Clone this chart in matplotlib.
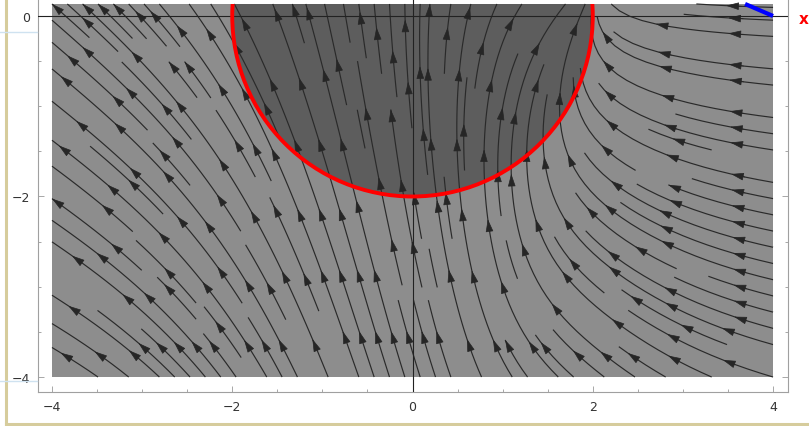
import matplotlib
matplotlib.use("Agg")
import matplotlib.pyplot as plt
from matplotlib.patches import Circle, Rectangle, FancyArrowPatch
import numpy as np

# plot range
x_range = [-4, 4]
y_range = [-4, 0.133]
radius = 2.0
xticks = [-4, -2, 0, 2, 4]
yticks = [-4, -2, 0]
minor_x = [-3.5, -3, -2.5, -1.5, -1, -0.5, 0.5, 1, 1.5, 2.5, 3, 3.5]
minor_y = [-3.5, -3, -2.5, -1.5, -1, -0.5]
blue_x = [3.69, 4.0]
blue_y = [0.133, 0.0]

fig = plt.figure(figsize=(8.09, 4.27), dpi=100)
ax = fig.add_axes([38/809, 34/427, 750/809, 1 - 34/427])
ax.set_xlim(-4.155, 4.166)
ax.set_ylim(-4.166, 0.188)

# background region and disk
bg = Rectangle((x_range[0], y_range[0]), x_range[1]-x_range[0], y_range[1]-y_range[0],
               facecolor="#8d8d8d", edgecolor="none", zorder=0)
ax.add_patch(bg)
disk = Circle((0, 0), radius, facecolor="#5d5d5d", edgecolor="none", zorder=1)
ax.add_patch(disk)
disk.set_clip_path(bg)

# vector field (direction)
xs = np.linspace(x_range[0], x_range[1], 240)
ys = np.linspace(y_range[0], y_range[1], 140)
X, Y = np.meshgrid(xs, ys)
U = X*(2 - X) + 0.6*Y
V = (15/(1 + np.exp(1.8*X))*(1 + 0.1*np.clip(-X - 2, 0, None)**2*(1 + Y/4))
     + (0.3 - 0.7*Y)/(1 + np.exp(-2*(X - 2))))
S = np.hypot(U, V)
U, V = U/S, V/S
sp = ax.streamplot(X, Y, U, V, density=(1.6, 0.8), color="#2a2a2a", linewidth=0.85,
                   arrowsize=0.01, zorder=2)
for p in list(ax.patches):
    if isinstance(p, FancyArrowPatch):
        p.remove()

# several arrowheads along each stream line
step = 0.75
for seg in sp.lines.get_segments():
    d = np.r_[0, np.cumsum(np.hypot(np.diff(seg[:, 0]), np.diff(seg[:, 1])))]
    if d[-1] < 0.3:
        continue
    for s0 in np.arange(step*0.6, d[-1], step):
        i = np.searchsorted(d, s0)
        if i < 1 or i >= len(seg):
            continue
        a = FancyArrowPatch(seg[i-1], seg[i], arrowstyle="-|>,head_length=0.8,head_width=0.24",
                            mutation_scale=10, color="#262626", linewidth=0.5, zorder=2,
                            shrinkA=0, shrinkB=0)
        ax.add_patch(a)

ring = Circle((0, 0), radius, facecolor="none", edgecolor="red", linewidth=2.8, zorder=4)
ax.add_patch(ring)
ring.set_clip_path(bg)
ax.plot(blue_x, blue_y, color="blue", linewidth=3, zorder=4, solid_capstyle="butt")

ax.axhline(0, color="#222222", linewidth=0.8, zorder=3)
ax.axvline(0, color="#222222", linewidth=0.8, zorder=3)

ax.set_xticks(xticks)
ax.set_yticks(yticks)
ax.set_xticks(minor_x, minor=True)
ax.set_yticks(minor_y, minor=True)
ax.set_xticklabels(["\u22124", "\u22122", "0", "2", "4"])
ax.set_yticklabels(["\u22124", "\u22122", "0"])
ax.tick_params(direction="in", length=4, width=0.6, color="#999999", labelsize=9,
               labelcolor="#333333", pad=6, right=True)
ax.tick_params(which="minor", direction="in", length=2.5, width=0.6, color="#999999", right=True)
for s in ["left", "bottom", "right"]:
    ax.spines[s].set_color("#a0a0a0")
    ax.spines[s].set_linewidth(0.8)
ax.spines["top"].set_visible(False)

fig.text(804/809, 1 - 20/427, "x", color="red", fontsize=11, fontweight="bold",
         ha="center", va="center")

# outer frame pieces
tan = "#d6cc9c"
fig.add_artist(plt.Line2D([6/809, 6/809], [1, 1 - 425/427], color=tan, linewidth=2.2))
fig.add_artist(plt.Line2D([6/809, 1], [1 - 425/427, 1 - 425/427], color=tan, linewidth=2.2))
fig.add_artist(plt.Line2D([0, 37/809], [1 - 33/427, 1 - 33/427], color="#cfe2f0", linewidth=1))
fig.add_artist(plt.Line2D([0, 37/809], [1 - 382/427, 1 - 382/427], color="#cfe2f0", linewidth=1))

fig.savefig("out.png", dpi=100)
